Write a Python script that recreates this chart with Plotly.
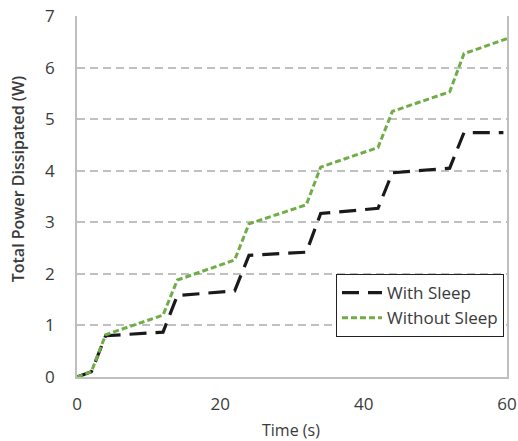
import plotly.graph_objects as go

time_with = [0, 2, 4, 12, 14, 22, 24, 32, 34, 42, 44, 52, 54, 59.5]
power_with = [0, 0.1, 0.8, 0.87, 1.58, 1.67, 2.36, 2.42, 3.17, 3.27, 3.96, 4.05, 4.74, 4.74]

time_without = [0, 2, 4, 12, 14, 22, 24, 32, 34, 42, 44, 52, 54, 60]
power_without = [0, 0.1, 0.82, 1.2, 1.88, 2.27, 2.97, 3.34, 4.07, 4.45, 5.15, 5.53, 6.27, 6.56]

x_ticks = [0, 20, 40, 60]
y_ticks = [0, 1, 2, 3, 4, 5, 6, 7]

FONT = "Open Sans"
TXT = "#3a3a3a"

fig = go.Figure()
fig.add_trace(go.Scatter(x=time_with, y=power_with, mode="lines", name="With Sleep",
                         line=dict(color="#1a1a1a", width=3.2, dash="17px,9px")))
fig.add_trace(go.Scatter(x=time_without, y=power_without, mode="lines", name="Without Sleep",
                         line=dict(color="#70ad47", width=3, dash="6px,3px")))

fig.update_layout(
    width=518, height=441,
    margin=dict(l=77, r=11, t=16, b=64),
    plot_bgcolor="white", paper_bgcolor="white",
    font=dict(family=FONT, size=17, color=TXT),
    showlegend=True,
    legend=dict(x=0.993, y=0.285, xanchor="right", yanchor="top",
                bgcolor="white", bordercolor="#222222", borderwidth=1,
                font=dict(family=FONT, size=17, color=TXT),
                tracegroupgap=0, itemwidth=40),
    xaxis=dict(range=[0, 60], tickvals=x_ticks, showgrid=False, zeroline=False,
               showline=True, linecolor="#bfbfbf", linewidth=1.5,
               ticks="", ticklabelstandoff=11, automargin=False,
               tickfont=dict(size=17)),
    yaxis=dict(range=[0, 7], tickvals=y_ticks, showgrid=True, gridcolor="#c0c0c0",
               griddash="8px,5px", gridwidth=1.5, zeroline=False,
               showline=True, mirror=True, linecolor="#bfbfbf", linewidth=1.5,
               ticks="", ticklabelstandoff=17, automargin=False,
               tickfont=dict(size=17)),
    annotations=[
        dict(text="Time (s)", xref="paper", yref="paper", x=0.497, y=-0.147,
             xanchor="center", yanchor="middle", showarrow=False,
             font=dict(size=16, color=TXT)),
        dict(text="Total Power Dissipated (W)", xref="paper", yref="paper",
             x=-0.137, y=0.548, xanchor="center", yanchor="middle", textangle=-90,
             showarrow=False, font=dict(size=16, color=TXT, weight=600)),
    ],
)

fig.write_html("out.html")
